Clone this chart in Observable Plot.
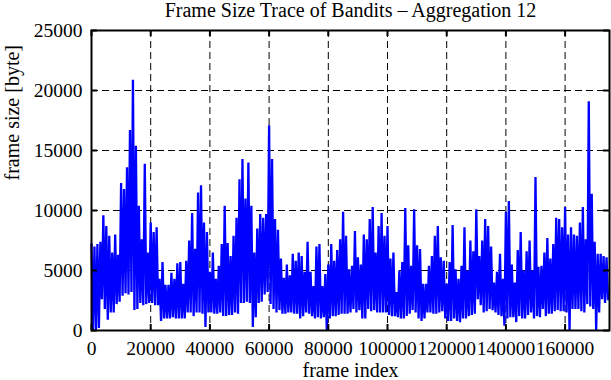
<!DOCTYPE html>
<html>
<head>
<meta charset="utf-8">
<script src="https://cdn.jsdelivr.net/npm/d3@7"></script>
<script src="https://cdn.jsdelivr.net/npm/@observablehq/plot@0.6"></script>
<style>
  html, body { margin: 0; padding: 0; background: white; }
  svg text { font-family: 'Liberation Serif', 'Times New Roman', serif !important; }
</style>
</head>
<body>
<div id="chart"></div>
<script>
const title = "Frame Size Trace of Bandits \u2013 Aggregation 12";
const xLabel = "frame index";
const yLabel = "frame size [byte]";
const xTicks = [0, 20000, 40000, 60000, 80000, 100000, 120000, 140000, 160000];
const yTicks = [0, 5000, 10000, 15000, 20000, 25000];
const frameStep = 1000; // frames per column of the trace envelope

// per-column local maxima of frame size (bytes)
const hiValues = [
  7200, 7000, 7200, 7400, 9600, 8700, 7900, 6500, 8000, 6300,
  12300, 11800, 13600, 16700, 20900, 15400, 10400, 7600, 13900, 6500,
  9000, 8200, 8600, 4300, 5700, 3800, 3800, 4800, 4300, 5600,
  5700, 3900, 5800, 7500, 9800, 6800, 11500, 12100, 9000, 8200,
  4900, 6500, 4300, 5400, 7200, 10400, 7300, 6200, 7900, 9400,
  12600, 14300, 11000, 14000, 10400, 6500, 8500, 9700, 9400, 9700,
  17100, 14300, 9300, 8400, 6000, 4400, 5500, 4600, 6400, 5800,
  6500, 6200, 4900, 7400, 4900, 3700, 7000, 7200, 3700, 4700,
  5500, 7200, 5800, 6700, 7600, 9900, 7900, 5100, 5400, 8300,
  6100, 5500, 8000, 7600, 9300, 10300, 6500, 8700, 9800, 7900,
  8700, 6000, 6500, 3200, 5000, 5700, 10200, 7100, 5400, 10100,
  7100, 6800, 3900, 3900, 5400, 6200, 7900, 8700, 6100, 5800,
  3900, 5700, 8800, 5100, 4300, 5400, 8600, 5000, 7500, 6600,
  10100, 6200, 7500, 9300, 8700, 7000, 4000, 4900, 6400, 4300,
  9900, 10800, 5500, 4000, 6700, 8200, 5000, 6600, 7500, 5000,
  12800, 5300, 5400, 6500, 7700, 6000, 7200, 9400, 9300, 8600,
  10300, 8000, 8600, 8000, 7900, 9000, 10300, 7600, 19100, 11400,
  7400, 6400, 6400, 6200, 6100
];
// per-column local minima of frame size (bytes)
const loValues = [
  0, 0, 200, 2600, 1800, 900, 1500, 1500, 2200, 2400,
  2900, 3100, 3000, 3200, 1700, 1800, 2300, 2100, 2200, 2300,
  2300, 2100, 2100, 800, 1000, 1000, 1000, 1100, 1000, 1000,
  1000, 1000, 1500, 1500, 1200, 1500, 1500, 1400, 300, 1500,
  1500, 1400, 1400, 1500, 1200, 1200, 1300, 1300, 1500, 1400,
  2300, 2300, 2400, 2300, 300, 1100, 2300, 2400, 3000, 3200,
  2200, 1800, 1500, 1700, 1400, 1400, 1500, 1500, 1400, 1400,
  1000, 1200, 1500, 1400, 1200, 1000, 1100, 1000, 1100, 0,
  1000, 1200, 1200, 1300, 1400, 1400, 1400, 1500, 1800, 1500,
  1700, 1000, 1000, 1800, 1600, 1700, 1500, 1500, 1500, 1500,
  1300, 1200, 1200, 1100, 1000, 1000, 1200, 1400, 1700, 1500,
  1000, 800, 1000, 1500, 1500, 1400, 1400, 1500, 1600, 1000,
  800, 800, 1000, 800, 700, 1000, 1000, 1200, 1300, 1400,
  2600, 2100, 1500, 1600, 1800, 1700, 1500, 1300, 1200, 400,
  1000, 1100, 1100, 700, 1200, 1000, 1000, 1300, 1500, 1000,
  1200, 1100, 1800, 1200, 1400, 1400, 1600, 1700, 1600, 1600,
  1500, 0, 1800, 1800, 1800, 1600, 1500, 2200, 2000, 1800,
  0, 1500, 2600, 2300, 2600
];

const points = [];
hiValues.forEach((hi, i) => {
  points.push({frame: i * frameStep, size: hi});
  points.push({frame: i * frameStep + frameStep / 2, size: loValues[i]});
});

const fmt = d3.format("d");
const serif = "'Liberation Serif', 'Times New Roman', serif";
const W = 611, H = 380, ML = 91, MR = 2, MT = 30, MB = 50;
const innerW = W - ML - MR, innerH = H - MT - MB, tickLen = 6;

const chart = Plot.plot({
  width: W, height: H,
  marginLeft: ML, marginRight: MR, marginTop: MT, marginBottom: MB,
  style: {fontFamily: serif, fontSize: "20px", background: "white", color: "black", overflow: "visible"},
  x: {domain: [0, 175000], axis: null},
  y: {domain: [0, 25000], axis: null},
  marks: [
    Plot.gridX(xTicks, {stroke: "black", strokeOpacity: 1, strokeWidth: 1, strokeDasharray: "7,4"}),
    Plot.gridY(yTicks, {stroke: "black", strokeOpacity: 1, strokeWidth: 1, strokeDasharray: "7,4"}),
    Plot.line(points, {x: "frame", y: "size", stroke: "#0000ff", strokeWidth: 2.3, strokeLinejoin: "bevel"}),
    Plot.frame({stroke: "black", strokeWidth: 2}),
    Plot.ruleX(xTicks, {x: d => d, insetTop: innerH - tickLen, stroke: "black", strokeWidth: 2}),
    Plot.ruleX(xTicks, {x: d => d, insetBottom: innerH - tickLen, stroke: "black", strokeWidth: 2}),
    Plot.ruleY(yTicks, {y: d => d, insetRight: innerW - tickLen, stroke: "black", strokeWidth: 2}),
    Plot.ruleY(yTicks, {y: d => d, insetLeft: innerW - tickLen, stroke: "black", strokeWidth: 2}),
    Plot.text(xTicks, {x: d => d, text: d => fmt(d), frameAnchor: "bottom", lineAnchor: "middle", dy: 18, fontSize: 19.5, fontFamily: serif, fill: "black"}),
    Plot.text(yTicks, {y: d => d, text: d => fmt(d), frameAnchor: "left", textAnchor: "end", lineAnchor: "middle", dx: -9, fontSize: 19.5, fontFamily: serif, fill: "black"}),
    Plot.text([title], {text: d => d, frameAnchor: "top", lineAnchor: "middle", dy: -20, fontSize: 20, fontFamily: serif, fill: "black"}),
    Plot.text([xLabel], {text: d => d, frameAnchor: "bottom", lineAnchor: "middle", dy: 40, fontSize: 20, fontFamily: serif, fill: "black"}),
    Plot.text([yLabel], {text: d => d, frameAnchor: "left", lineAnchor: "middle", dx: -79, rotate: -90, fontSize: 20, fontFamily: serif, fill: "black"})
  ]
});
document.getElementById("chart").appendChild(chart);
</script>
</body>
</html>
